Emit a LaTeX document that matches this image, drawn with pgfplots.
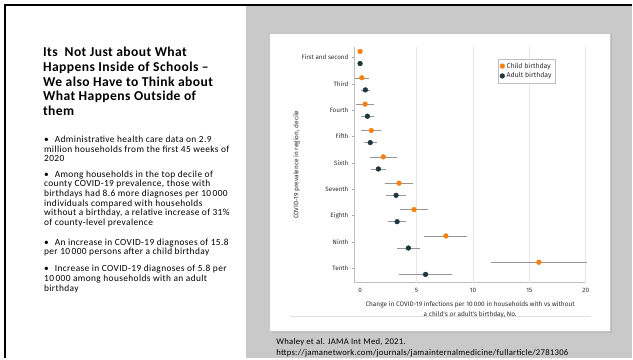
\documentclass[border=0pt]{standalone}
\usepackage{pgfplots}
\pgfplotsset{compat=1.18}
\usepackage{fontspec}
\setmainfont{Carlito}
\newfontfamily\chartfont{Fira Sans}
\newfontfamily\slidefont[LetterSpace=4.0]{Carlito}
\newfontfamily\citefont[LetterSpace=3.0]{Carlito}
\newfontfamily\titlefont[LetterSpace=3.0]{Carlito}
\definecolor{childc}{RGB}{250,128,20}
\definecolor{adultc}{RGB}{30,55,60}
\definecolor{panel}{RGB}{200,201,200}
\definecolor{txt}{RGB}{45,45,45}
\definecolor{errc}{RGB}{150,150,150}
\begin{document}
\begin{tikzpicture}[x=1pt,y=1pt]
% canvas
\fill[white] (0,0) rectangle (633,359);
\fill[panel] (246,0) rectangle (633,353);
\draw[black, line width=2pt] (5,0) -- (5,354) -- (633,354);
% chart card with shadow
\fill[gray!55] (272,25) rectangle (613,324.5);
\fill[white] (270,27) rectangle (611,326);
\draw[gray!45, line width=0.4pt] (270,27) rectangle (611,326);
\draw[gray!25, line width=0.5pt] (290,42) -- (592,42);
% title
\begin{scope}[every node/.style={anchor=base west, inner sep=0pt, font=\titlefont\fontsize{13.6}{14}\selectfont\bfseries}]
\node at (43,302) {Its\ \ Not Just about What};
\node at (43,287.3) {Happens Inside of Schools \textendash};
\node at (43,272.6) {We also Have to Think about};
\node at (43,257.9) {What Happens Outside of};
\node at (43,243.2) {them};
\end{scope}
% bullets
\begin{scope}[every node/.style={anchor=base west, inner sep=0pt, font=\slidefont\fontsize{9.4}{9.4}\selectfont}]
\node at (44,216) {\textbullet\hspace{6pt}Administrative health care data on 2.9};
\node at (44,206.5) {million households from the first 45 weeks of};
\node at (44,197) {2020};
\node at (44,181.5) {\textbullet\hspace{6pt}Among households in the top decile of};
\node at (44,171.8) {county COVID-19 prevalence, those with};
\node at (44,162.1) {birthdays had 8.6 more diagnoses per 10\,000};
\node at (44,152.4) {individuals compared with households};
\node at (44,142.7) {without a birthday, a relative increase of 31\%};
\node at (44,133) {of county-level prevalence};
\node at (44,113.5) {\textbullet\hspace{6pt}An increase in COVID-19 diagnoses of 15.8};
\node at (44,103.8) {per 10\,000 persons after a child birthday};
\node at (44,86.8) {\textbullet\hspace{6pt}Increase in COVID-19 diagnoses of 5.8 per};
\node at (44,77.1) {10\,000 among households with an adult};
\node at (44,67.4) {birthday};
\end{scope}
% citation
\node[anchor=base west, inner sep=0pt, font=\citefont\fontsize{8.7}{9}\selectfont] at (276.5,13.5) {Whaley et al. JAMA Int Med, 2021.};
\node[anchor=base west, inner sep=0pt, font=\citefont\fontsize{8.7}{9}\selectfont] at (276.5,2.5) {https://jamanetwork.com/journals/jamainternalmedicine/fullarticle/2781306};
\begin{axis}[
  at={(355pt,76pt)}, anchor=south west,
  width=231.7pt, height=236pt, scale only axis,
  xmin=-0.5, xmax=20, ymin=0.46, ymax=9.4,
  axis x line*=bottom, axis y line*=left,
  axis line style={draw=gray!50, line width=0.8pt, -},
  xtick={0,5,10,15,20},
  x tick style={draw=none},
  extra x ticks={5,10,15,20}, extra x tick labels={},
  extra x tick style={grid=major, major grid style={gray!18, line width=0.8pt}, tick style={draw=none}},
  ytick={1,...,9},
  yticklabels={Tenth,Ninth,Eighth,Seventh,Sixth,Fifth,Fourth,Third,First and second},
  y tick style={draw=gray!70, line width=0.5pt},
  tick align=outside, major tick length=2.5pt,
  /pgf/number format/assume math mode=true,
  tick label style={font=\chartfont\fontsize{6.3}{7}\selectfont, text=txt},
  xlabel={Change in COVID-19 infections per 10\,000 in households with vs without\\a child's or adult's birthday, No.},
  ylabel={COVID-19 prevalence in region, decile},
  label style={font=\chartfont\fontsize{6.5}{9.5}\selectfont, text=txt},
  xlabel style={align=center},
  xlabel shift=-3pt, ylabel shift=-5pt,
  legend style={at={(0.6215,0.949)}, anchor=north west, draw=gray!50, line width=0.4pt,
    font=\chartfont\fontsize{6.9}{8}\selectfont, text=txt, row sep=-1pt, inner sep=1.5pt},
  legend cell align=left,
  clip=false,
]
\addplot[only marks, mark=*, mark size=2.4pt, color=childc, mark options={fill=childc, draw=childc},
  error bars/.cd, x dir=both, x explicit,
  error bar style={errc, line width=0.5pt},
  error mark options={errc, mark size=2pt, line width=0.5pt}]
coordinates {
(0,9.23) +- (0,0)
(0.15,8.23) +- (0.45,0)
(0.45,7.23) +- (0.65,0)
(0.99,6.23) +- (0.69,0)
(2.06,5.23) +- (0.99,0)
(3.45,4.23) +- (1.09,0)
(4.78,3.23) +- (1.09,0)
(7.6,2.23) +- (1.72,0)
(15.84,1.23) +- (4.08,0)
};
\addlegendentry{Child birthday}
\addplot[only marks, mark=*, mark size=2.4pt, color=adultc, mark options={fill=adultc, draw=adultc},
  error bars/.cd, x dir=both, x explicit,
  error bar style={errc, line width=0.5pt},
  error mark options={errc, mark size=2pt, line width=0.5pt}]
coordinates {
(0,8.77) +- (0,0)
(0.47,7.77) +- (0.2,0)
(0.65,6.77) +- (0.38,0)
(0.9,5.77) +- (0.42,0)
(1.62,4.77) +- (0.52,0)
(3.19,3.77) +- (0.7,0)
(3.28,2.77) +- (0.6,0)
(4.28,1.77) +- (0.84,0)
(5.8,0.77) +- (2.14,0)
};
\addlegendentry{Adult birthday}
\end{axis}
\end{tikzpicture}
\end{document}
